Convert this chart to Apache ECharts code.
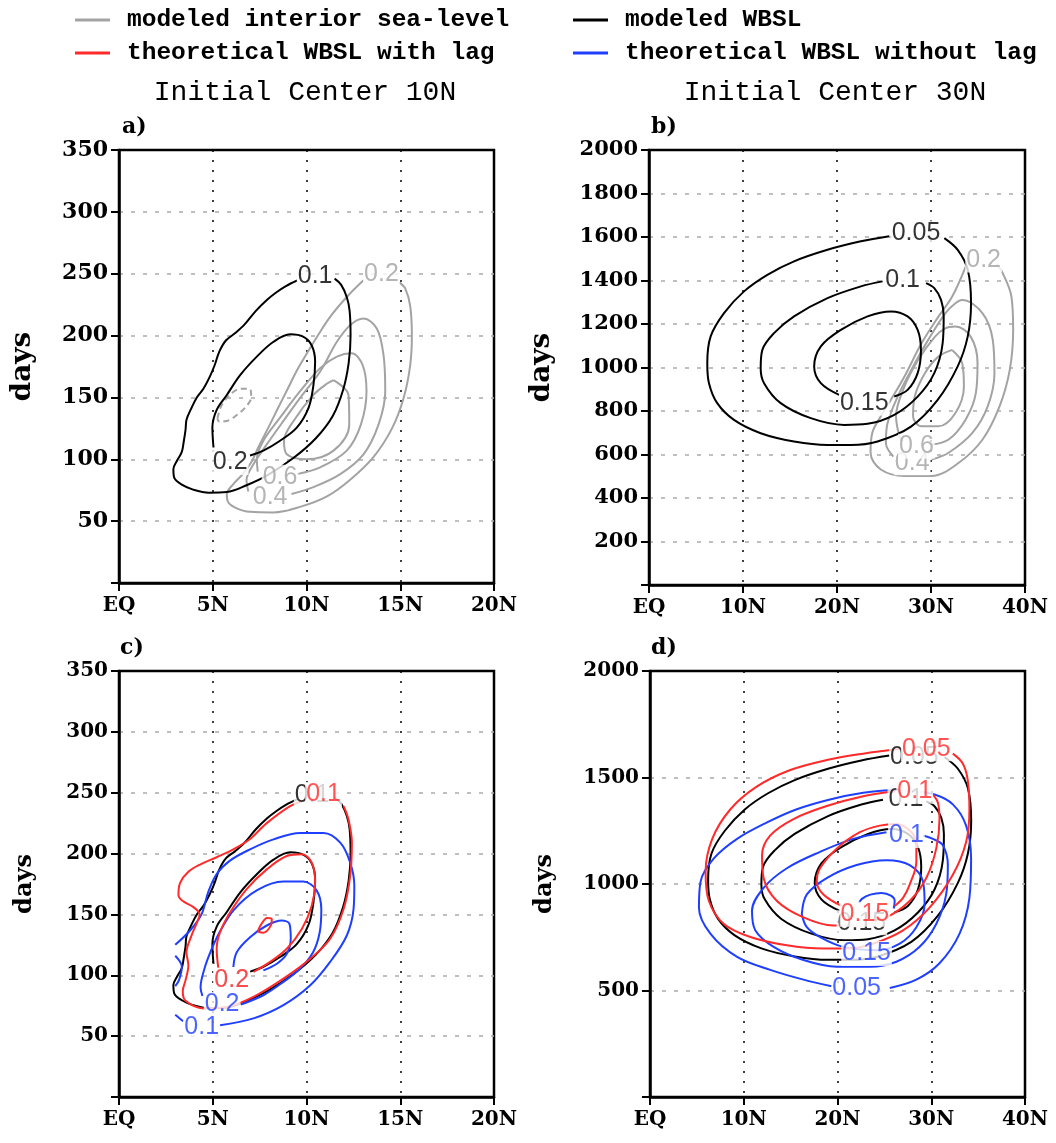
<!DOCTYPE html>
<html>
<head>
<meta charset="utf-8">
<script src="https://cdn.jsdelivr.net/npm/echarts@6/dist/echarts.min.js"></script>
<style>
  html, body { margin: 0; padding: 0; background: #fff; }
  #chart { width: 1056px; height: 1143px; }
</style>
</head>
<body>
<div id="chart"></div>
<script>
// tick labels
var latTicksA = [0, 5, 10, 15, 20];
var latTicksB = [0, 10, 20, 30, 40];
var daysMaxA = 350, daysStepA = 50;
var daysMaxB = 2000, daysStepB = 200, daysStepD = 500;

// ---- Initial center 10N : modeled WBSL (panels a, c) ----
var wbsl10_01 = [[9.5,244.5],[8.9,240],[8.4,235],[7.9,229],[7.3,220],[6.7,209],[6.2,202],[5.7,196],[5.35,187],[5.1,176],[4.85,167],[4.5,157],[4.15,150],[3.85,141],[3.6,132],[3.55,124],[3.45,114],[3.35,106],[3.1,99],[2.9,92],[2.95,85],[3.35,79.5],[3.95,75.5],[4.8,73],[5.75,73.5],[6.8,79],[7.9,87],[9.3,101],[10.5,117],[11.4,135],[11.95,156],[12.25,178],[12.35,200],[12.3,220],[12.15,231],[11.85,241],[11.5,246]];
var wbsl10_02 = [[5.04,109.5],[4.98,125.6],[5.21,140],[5.75,152],[6.46,168],[7.35,183],[8.24,195],[9.13,201],[9.84,199],[10.28,192],[10.46,179],[10.37,160],[10.11,141.6],[9.48,125.6],[8.59,115],[7.7,107],[6.99,103]];
// modeled interior sea-level (panel a)
var intr10_dash = [[5.25,133],[5.45,143],[5.9,152],[6.5,157],[7.0,156.5],[7.05,150],[6.8,143],[6.3,136],[5.75,131],[5.35,130.5],[5.25,133]];
var intr10_02 = [[13.04,244.7],[12.16,231.4],[11.28,215.5],[10.58,199.5],[10.05,186.3],[9.53,173],[9.0,157],[8.47,141],[7.95,125.2],[7.42,109.3],[7.07,98],[6.6,88],[6.1,80],[5.75,72],[5.8,66],[6.2,61],[6.99,57.5],[8.24,57],[9.66,61.5],[11.09,70],[12.33,83.5],[13.58,102],[14.56,125],[15.18,149.6],[15.53,176],[15.62,200],[15.53,224],[15.27,238],[14.95,243]];
var intr10_04 = [[9.2,72],[10.37,77.5],[11.8,88],[13.04,104],[13.84,128],[14.2,155],[14.11,184],[13.75,205.7],[13.04,213.7],[12.33,208.4],[11.62,195],[10.73,171],[9.66,149.6],[8.77,131],[7.88,112],[7.17,96],[6.8,83],[6.9,74]];
var intr10_06 = [[9.48,88],[10.73,93.5],[12.15,107],[12.9,128],[13.2,155],[13.0,176],[12.4,185.7],[11.62,183],[10.73,173.7],[9.66,155],[8.59,133.6],[7.7,115],[7.35,100],[7.4,90]];
var intr10_08 = [[11.44,164],[12.24,152],[12.28,128],[11.44,107],[10.02,100],[8.95,104],[8.8,115],[9.31,131],[10.37,152],[11.08,161],[11.44,164]];
// theoretical WBSL with lag (panel c)
var lag10_01 = [[9.98,244],[9.13,239],[7.88,225],[6.99,212],[6.1,203.5],[5.21,197],[4.32,191],[3.7,185],[3.26,176],[3.17,166],[3.4,161],[3.97,156],[4.3,150],[4.15,143],[3.85,132],[3.6,119],[3.7,108],[3.55,96],[3.4,87],[3.55,79],[4.5,72.8],[5.75,74],[7.17,82.3],[8.77,97.3],[10.2,113.6],[11.26,130],[11.98,154.5],[12.33,181.7],[12.42,209],[12.24,228],[11.98,239]];
var lag10_02 = [[5.3,105.4],[5.21,121.8],[5.39,135.4],[5.93,151.8],[6.81,170.8],[7.88,187],[8.95,198],[9.75,199.5],[10.28,192.6],[10.46,176.3],[10.28,157.2],[9.75,138],[8.95,121.8],[8.06,111],[7.17,102.7]];
var lag10_03 = [[7.4,136],[7.55,141],[7.9,147],[8.15,146],[8.1,141],[7.7,135],[7.4,136]];
// theoretical WBSL without lag (panel c)
var nolag10_01 = [[5.39,59],[7.17,64.6],[8.77,75.5],[10.2,91.8],[11.26,111],[12.15,132.7],[12.51,154.5],[12.55,173.6],[12.33,192.6],[11.8,209],[10.91,217],[9.66,217],[8.24,211.7],[6.99,203.5],[5.9,194],[5.2,183],[4.75,168],[4.4,150],[3.8,137],[3.0,125]];
var nolag10_01b = [[3.0,67.5],[3.42,62.2]];
var nolag10_01c = [[3.0,116],[3.35,107],[3.2,96],[3.0,91]];
var nolag10_02 = [[6.5,76],[7.72,83.8],[8.77,94.6],[9.65,105.4],[10.35,119],[10.7,135],[10.79,154],[10.53,170],[9.82,177],[8.77,177],[7.37,170],[6.14,154],[5.35,135],[4.9,120],[4.55,105],[4.35,90],[4.45,83]];
var nolag10_03 = [[6.1,106.8],[6.28,119],[6.99,131.3],[7.88,140.9],[8.68,145],[9.09,142.2],[9.16,130],[8.95,117.7],[8.42,109.5],[7.7,104]];

// ---- Initial center 30N : modeled WBSL (panels b, d) ----
var wbsl30_005 = [[25.56,1603],[22.54,1580],[18.99,1541],[15.43,1488],[12.59,1426],[10.11,1350],[7.98,1250],[6.56,1143],[6.2,1020],[6.38,928],[7.26,836],[9.04,759],[11.88,698],[15.43,660],[18.99,644],[21.47,644],[24.32,660],[27.87,728],[30.71,851],[32.84,1005],[33.91,1143],[34.26,1296],[33.91,1449],[32.84,1541],[31.42,1595]];
var wbsl30_01 = [[24.85,1396],[22.54,1373],[18.99,1319],[15.43,1235],[13.3,1158],[12.06,1081],[11.88,997],[12.24,928],[14.01,836],[17.21,767],[20.76,736],[23.25,741],[26.09,782],[28.58,866],[30.35,974],[31.24,1112],[31.35,1235],[31.07,1311],[30.35,1365],[29.47,1388]];
var wbsl30_015 = [[20.23,874],[18.28,928],[17.57,1005],[18.28,1097],[20.41,1173],[23.25,1235],[25.74,1258],[27.51,1235],[28.58,1173],[28.93,1081],[28.58,974],[27.51,897],[26.09,867]];
// modeled interior sea-level (panel b)
var intr30_02 = [[33.68,1463],[32.24,1325],[30.79,1234],[28.99,1111],[27.18,959],[25.74,852],[24.66,776],[23.75,699],[23.57,608],[24.66,531],[27.18,501],[30.07,501],[32.96,562],[35.49,669],[37.29,821],[38.38,989],[38.74,1172],[38.56,1325],[37.65,1432],[37.0,1475]];
var intr30_04 = [[30.07,577],[31.88,608],[34.4,699],[36.03,821],[36.75,974],[36.57,1127],[35.49,1249],[33.32,1310],[32.6,1295],[31.52,1249],[29.7,1127],[27.9,989],[26.46,867],[25.38,745],[25.2,653],[26.0,590]];
var intr30_06 = [[30.0,645],[31.88,669],[33.68,760],[34.77,882],[34.95,1020],[34.22,1142],[32.6,1188],[31.52,1180],[30.43,1142],[28.63,1035],[27.18,913],[26.28,776],[26.64,684],[27.0,660]];
var intr30_08 = [[32.24,1081],[33.32,1020],[33.5,913],[32.6,791],[30.79,730],[28.99,730],[28.09,776],[28.27,867],[29.35,974],[30.79,1050],[32.24,1081]];
// theoretical WBSL with lag (panel d)
var lag30_005 = [[26.64,1635],[22.74,1612],[18.85,1582],[14.96,1535],[11.42,1458],[8.58,1351],[6.64,1212],[5.93,1058],[6.28,920],[7.88,812],[10.71,751],[14.6,712],[18.5,697],[20.97,697],[23.81,720],[26.99,782],[29.82,889],[32.3,1043],[33.72,1197],[34.07,1351],[33.89,1489],[33.36,1566],[32.3,1612]];
var lag30_01 = [[26.1,1435],[22.74,1412],[18.85,1366],[15.31,1305],[12.83,1228],[11.95,1135],[12.12,1028],[13.54,920],[16.37,843],[19.56,805],[22.39,805],[25.22,843],[27.7,920],[29.47,1028],[30.53,1166],[30.88,1305],[30.71,1382],[30.18,1420]];
var lag30_015 = [[20.44,897],[18.5,951],[17.79,1012],[18.14,1074],[19.91,1166],[22.39,1243],[24.51,1274],[26.28,1282],[27.7,1251],[28.41,1197],[28.41,1105],[27.7,997],[26.99,935],[26.1,897]];
// theoretical WBSL without lag (panel d)
var nolag30_005 = [[25.58,512],[28.41,551],[30.88,628],[33.01,766],[34.07,935],[34.25,1120],[33.72,1274],[32.3,1374],[30.35,1420],[28.0,1436],[25.58,1440],[22.74,1428],[19.2,1397],[15.66,1351],[12.48,1289],[9.29,1212],[6.81,1120],[5.4,1012],[5.22,889],[6.46,766],[9.29,658],[12.83,597],[16.37,551],[19.38,520]];
var nolag30_01 = [[25.22,1243],[21.68,1212],[18.14,1151],[14.6,1074],[12.12,982],[10.88,874],[11.24,782],[13.19,705],[16.37,643],[19.91,612],[23.45,612],[26.28,635],[28.76,705],[30.53,812],[31.59,951],[31.77,1089],[31.24,1182],[30.18,1212],[29.12,1228]];
var nolag30_015 = [[16.19,858],[16.73,951],[18.85,1028],[22.04,1089],[25.22,1112],[27.7,1089],[29.12,1012],[29.29,905],[28.41,797],[26.64,720],[24.16,689],[20.62,705],[18.14,751],[16.73,797],[16.19,858]];
var nolag30_02 = [[22.3,910],[22.6,930],[23.5,950],[24.7,958],[25.7,945],[26.1,920],[26.0,885]];

// contour labels [lat, days, text]
var lblA_black = [[10.46,248,'0.1'],[5.93,97.5,'0.2']];
var lblA_gray = [[14.0,250,'0.2'],[8.59,85.5,'0.6'],[8.06,69.5,'0.4']];
var lblB_black = [[28.4,1618,'0.05'],[26.98,1403,'0.1'],[22.9,836,'0.15']];
var lblB_gray = [[35.6,1494,'0.2'],[28.0,562,'0.4'],[28.45,638,'0.6']];
var lblC_black = [[10.3,248,'0.1'],[6.01,95.9,'0.2']];
var lblC_red = [[10.91,248.5,'0.1'],[6.01,95.9,'0.2']];
var lblC_blue = [[5.5,76,'0.2'],[4.41,57.8,'0.1']];
var lblD_black = [[28.2,1598,'0.05'],[27.3,1398,'0.1'],[22.6,818,'0.15']];
var lblD_red = [[29.47,1635,'0.05'],[28.23,1435,'0.1'],[22.92,858,'0.15']];
var lblD_blue = [[27.35,1228,'0.1'],[23.1,674,'0.15'],[22.04,512,'0.05']];

var GRAY = '#a3a3a3', BLACK = '#000', RED = '#ff2a2a', BLUE = '#1f3fff';
var SERIF = 'DejaVu Serif', MONO = 'Liberation Mono', SANS = 'Liberation Sans';

var grids = [
    {left: 119, top: 150, width: 375, height: 433},
    {left: 649, top: 150, width: 376, height: 435},
    {left: 119, top: 671, width: 375, height: 426},
    {left: 650, top: 671, width: 375, height: 426}
];
grids.forEach(function (g) { g.show = true; g.borderColor = '#000'; g.borderWidth = 2.5; });

function xAx(gi, max, step) {
    return {
        type: 'value', gridIndex: gi, min: 0, max: max, interval: step,
        axisLine: {show: true, lineStyle: {color: '#000', width: 2.5}},
        axisTick: {show: true, inside: false, length: 8, lineStyle: {color: '#000', width: 2}},
        axisLabel: {
            margin: 13, color: '#000', fontFamily: SERIF, fontWeight: 'bold', fontSize: 20,
            formatter: function (v) { return v === 0 ? 'EQ' : v + 'N'; }
        },
        splitLine: {show: true, showMinLine: false, showMaxLine: false, lineStyle: {color: '#000', width: 1.5, type: [2, 8]}}
    };
}
function yAx(gi, max, step, fs, nameFs, gap) {
    return {
        type: 'value', gridIndex: gi, min: 0, max: max, interval: step,
        name: 'days', nameLocation: 'middle', nameGap: gap, nameRotate: 90,
        nameTextStyle: {fontFamily: SERIF, fontWeight: 'bold', fontSize: nameFs, color: '#000'},
        axisLine: {show: true, lineStyle: {color: '#000', width: 2.5}},
        axisTick: {show: true, inside: false, length: 8, lineStyle: {color: '#000', width: 2}},
        axisLabel: {
            margin: 11, color: '#000', fontFamily: SERIF, fontWeight: 'bold', fontSize: fs,
            formatter: function (v) { return v === 0 ? '' : String(v); }
        },
        splitLine: {show: true, showMinLine: false, showMaxLine: false, lineStyle: {color: '#aaa', width: 1.5, type: [4, 8]}}
    };
}

var series = [];
function addLine(gi, pts, color, dashed) {
    series.push({
        type: 'line', xAxisIndex: gi, yAxisIndex: gi, data: pts,
        showSymbol: false, smooth: 0.35, silent: true, animation: false, z: 3,
        lineStyle: {color: color, width: 2, type: dashed ? [6, 4] : 'solid'}
    });
}
function addLabels(gi, pts, color, z, fs) {
    series.push({
        type: 'scatter', xAxisIndex: gi, yAxisIndex: gi, data: pts,
        symbolSize: 1, itemStyle: {color: 'rgba(0,0,0,0)'}, silent: true, animation: false, z: z,
        label: {
            show: true, position: 'inside', color: color, fontFamily: SANS, fontSize: fs,
            backgroundColor: '#fff', padding: [0, 1],
            formatter: function (p) { return p.value[2]; }
        }
    });
}

// panel a
[intr10_02, intr10_04, intr10_06, intr10_08].forEach(function (d) { addLine(0, d, GRAY); });
addLine(0, intr10_dash, GRAY, true);
addLine(0, wbsl10_01, BLACK);
addLine(0, wbsl10_02, BLACK);
addLabels(0, lblA_gray, GRAY, 5, 25);
addLabels(0, lblA_black, BLACK, 6, 25);
// panel b
[intr30_02, intr30_04, intr30_06, intr30_08].forEach(function (d) { addLine(1, d, GRAY); });
addLine(1, wbsl30_005, BLACK);
addLine(1, wbsl30_01, BLACK);
addLine(1, wbsl30_015, BLACK);
addLabels(1, lblB_gray, GRAY, 5, 25);
addLabels(1, lblB_black, BLACK, 6, 25);
// panel c
addLine(2, wbsl10_01, BLACK);
addLine(2, wbsl10_02, BLACK);
[nolag10_01, nolag10_01b, nolag10_01c, nolag10_02, nolag10_03].forEach(function (d) { addLine(2, d, BLUE); });
[lag10_01, lag10_02, lag10_03].forEach(function (d) { addLine(2, d, RED); });
addLabels(2, lblC_black, BLACK, 5, 25);
addLabels(2, lblC_blue, BLUE, 6, 25);
addLabels(2, lblC_red, RED, 7, 25);
// panel d
addLine(3, wbsl30_005, BLACK);
addLine(3, wbsl30_01, BLACK);
addLine(3, wbsl30_015, BLACK);
[nolag30_005, nolag30_01, nolag30_015, nolag30_02].forEach(function (d) { addLine(3, d, BLUE); });
[lag30_005, lag30_01, lag30_015].forEach(function (d) { addLine(3, d, RED); });
addLabels(3, lblD_black, BLACK, 5, 25);
addLabels(3, lblD_blue, BLUE, 6, 25);
addLabels(3, lblD_red, RED, 7, 25);

function legendItem(x, y, color, text) {
    return [
        {type: 'line', shape: {x1: x, y1: y, x2: x + 35, y2: y}, style: {stroke: color, lineWidth: 3}},
        {type: 'text', x: x + 52, y: y, style: {text: text, fill: '#000', font: 'bold 24.5px "' + MONO + '"', textVerticalAlign: 'middle'}}
    ];
}
var graphics = [].concat(
    legendItem(75, 20, GRAY, 'modeled interior sea-level'),
    legendItem(573, 20, BLACK, 'modeled WBSL'),
    legendItem(75, 53, RED, 'theoretical WBSL with lag'),
    legendItem(573, 53, BLUE, 'theoretical WBSL without lag'),
    [
        {type: 'text', x: 305, y: 93, style: {text: 'Initial Center 10N', fill: '#000', font: '28px "' + MONO + '"', textAlign: 'center', textVerticalAlign: 'middle'}},
        {type: 'text', x: 835, y: 93, style: {text: 'Initial Center 30N', fill: '#000', font: '28px "' + MONO + '"', textAlign: 'center', textVerticalAlign: 'middle'}},
        {type: 'text', x: 122, y: 127, style: {text: 'a)', fill: '#000', font: 'bold 22px "' + SERIF + '"', textVerticalAlign: 'middle'}},
        {type: 'text', x: 651, y: 127, style: {text: 'b)', fill: '#000', font: 'bold 22px "' + SERIF + '"', textVerticalAlign: 'middle'}},
        {type: 'text', x: 120, y: 648, style: {text: 'c)', fill: '#000', font: 'bold 22px "' + SERIF + '"', textVerticalAlign: 'middle'}},
        {type: 'text', x: 651, y: 648, style: {text: 'd)', fill: '#000', font: 'bold 22px "' + SERIF + '"', textVerticalAlign: 'middle'}}
    ]
);

var chart = echarts.init(document.getElementById('chart'), null, {renderer: 'canvas'});
chart.setOption({
    backgroundColor: '#fff',
    animation: false,
    grid: grids,
    xAxis: [xAx(0, 20, 5), xAx(1, 40, 10), xAx(2, 20, 5), xAx(3, 40, 10)],
    yAxis: [
        yAx(0, daysMaxA, daysStepA, 22, 28, 82),
        yAx(1, daysMaxB, daysStepB, 21, 28, 93),
        yAx(2, daysMaxA, daysStepA, 20, 24, 82),
        yAx(3, daysMaxB, daysStepD, 20, 24, 93)
    ],
    graphic: graphics,
    series: series
});
</script>
</body>
</html>
